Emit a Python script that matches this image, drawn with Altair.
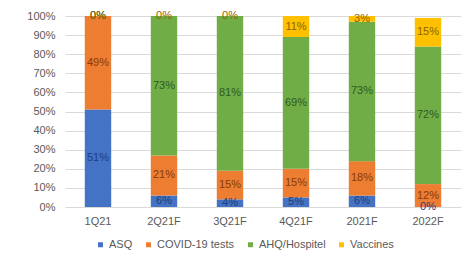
import altair as alt
import pandas as pd

categories = ["1Q21", "2Q21F", "3Q21F", "4Q21F", "2021F", "2022F"]
series = ["ASQ", "COVID-19 tests", "AHQ/Hospitel", "Vaccines"]
asq = [51, 6, 4, 5, 6, 0]
covid = [49, 21, 15, 15, 18, 12]
ahq = [0, 73, 81, 69, 73, 72]
vaccines = [0, 0, 0, 11, 3, 15]
y_ticks = [0, 0.1, 0.2, 0.3, 0.4, 0.5, 0.6, 0.7, 0.8, 0.9, 1.0]

colors = ["#4472C4", "#ED7D31", "#70AD47", "#FFC000"]
text_colors = ["#1F3F7A", "#8A3A0A", "#2F5A1C", "#8A6400"]

rows = []
for ci, c in enumerate(categories):
    for si, (s, vals) in enumerate(zip(series, [asq, covid, ahq, vaccines])):
        rows.append({"cat": c, "series": s, "value": vals[ci], "order": si,
                     "label": f"{vals[ci]}%"})
df = pd.DataFrame(rows)

base = alt.Chart(df).transform_stack(
    stack="value", groupby=["cat"], as_=["y0", "y1"],
    sort=[alt.SortField("order", "ascending")]
).transform_calculate(
    mid="(datum.y0 + datum.y1) / 2 / 100",
    b0="datum.y0 / 100",
    b1="datum.y1 / 100",
)

xaxis = alt.Axis(labelAngle=0, ticks=False, domain=False, labelPadding=8,
                 labelColor="#595959", labelFontSize=11, labelFont="Liberation Sans")
xscale = alt.Scale(paddingInner=0.6, paddingOuter=0.3)
yaxis = alt.Axis(format=".0%", values=y_ticks, labelOverlap=False,
                 ticks=False, domain=False, labelPadding=10,
                 gridColor="#D9D9D9", labelColor="#595959",
                 labelFontSize=11, labelFont="Liberation Sans")
yscale = alt.Scale(domain=[0, 1], nice=False)

bars = base.mark_bar().encode(
    x=alt.X("cat:N", sort=categories, title=None, scale=xscale, axis=xaxis),
    y=alt.Y("b0:Q", title=None, scale=yscale, axis=yaxis),
    y2="b1:Q",
    color=alt.Color("series:N", sort=series,
                    scale=alt.Scale(domain=series, range=colors),
                    legend=alt.Legend(title=None, orient="none", direction="horizontal",
                                      legendX=30, legendY=223,
                                      symbolType="square", symbolSize=25,
                                      labelOffset=3,
                                      labelFontSize=11, labelColor="#595959",
                                      labelFont="Liberation Sans", columnPadding=10)),
)

labels = base.mark_text(fontSize=11, font="Liberation Sans", baseline="middle").encode(
    x=alt.X("cat:N", sort=categories, title=None, scale=xscale, axis=xaxis),
    y=alt.Y("mid:Q", title=None, scale=yscale, axis=yaxis),
    text="label:N",
    color=alt.Color("series:N", scale=alt.Scale(domain=series, range=text_colors), legend=None),
)

chart = alt.layer(bars, labels).resolve_scale(color="independent").properties(
    width=396, height=191,
    autosize=alt.AutoSizeParams(type="none"),
    padding={"left": 57, "top": 8, "right": 3, "bottom": 46},
).configure_view(stroke=None)

chart.save("out.html", embed_options={"renderer": "svg", "actions": False})
